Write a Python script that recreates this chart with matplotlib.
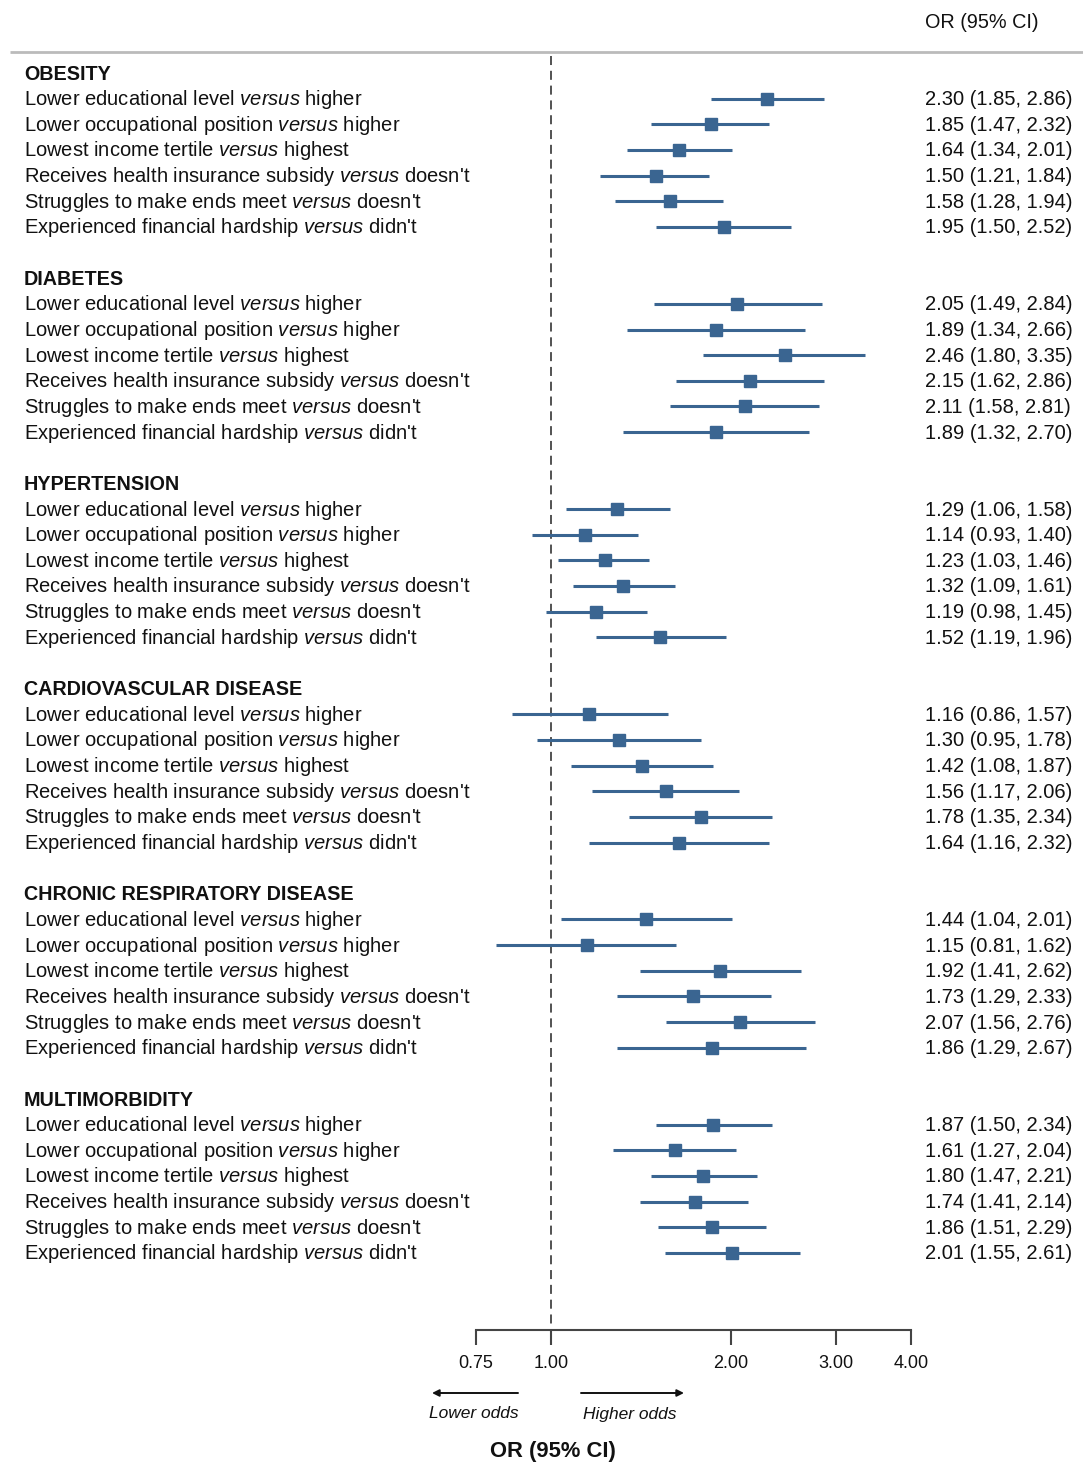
import numpy as np
import matplotlib
matplotlib.use("Agg")
import matplotlib.pyplot as plt
from matplotlib.transforms import blended_transform_factory
from matplotlib.ticker import FixedLocator, FixedFormatter, NullLocator

plt.rcParams["font.family"] = ["Liberation Sans", "DejaVu Sans"]
plt.rcParams["mathtext.fontset"] = "custom"
plt.rcParams["mathtext.rm"] = "Liberation Sans"
plt.rcParams["mathtext.it"] = "Liberation Sans:italic"
plt.rcParams["mathtext.bf"] = "Liberation Sans:bold"

# ---- data ----
outcomes = ["OBESITY", "DIABETES", "HYPERTENSION", "CARDIOVASCULAR DISEASE",
            "CHRONIC RESPIRATORY DISEASE", "MULTIMORBIDITY"]
exposures = [
    ("Lower educational level", "higher"),
    ("Lower occupational position", "higher"),
    ("Lowest income tertile", "highest"),
    ("Receives health insurance subsidy", "doesn't"),
    ("Struggles to make ends meet", "doesn't"),
    ("Experienced financial hardship", "didn't"),
]
or_est = [
    [2.30, 1.85, 1.64, 1.50, 1.58, 1.95],
    [2.05, 1.89, 2.46, 2.15, 2.11, 1.89],
    [1.29, 1.14, 1.23, 1.32, 1.19, 1.52],
    [1.16, 1.30, 1.42, 1.56, 1.78, 1.64],
    [1.44, 1.15, 1.92, 1.73, 2.07, 1.86],
    [1.87, 1.61, 1.80, 1.74, 1.86, 2.01],
]
ci_low = [
    [1.85, 1.47, 1.34, 1.21, 1.28, 1.50],
    [1.49, 1.34, 1.80, 1.62, 1.58, 1.32],
    [1.06, 0.93, 1.03, 1.09, 0.98, 1.19],
    [0.86, 0.95, 1.08, 1.17, 1.35, 1.16],
    [1.04, 0.81, 1.41, 1.29, 1.56, 1.29],
    [1.50, 1.27, 1.47, 1.41, 1.51, 1.55],
]
ci_high = [
    [2.86, 2.32, 2.01, 1.84, 1.94, 2.52],
    [2.84, 2.66, 3.35, 2.86, 2.81, 2.70],
    [1.58, 1.40, 1.46, 1.61, 1.45, 1.96],
    [1.57, 1.78, 1.87, 2.06, 2.34, 2.32],
    [2.01, 1.62, 2.62, 2.33, 2.76, 2.67],
    [2.34, 2.04, 2.21, 2.14, 2.29, 2.61],
]
axis_ticks = [0.75, 1.00, 2.00, 3.00, 4.00]

# ---- layout (figure pixels, measured from the top) ----
W, H = 1083, 1464
x_lo_px, x_hi_px = 476, 911          # axis from 0.75 to 4.00
k = (x_hi_px - x_lo_px) / np.log(axis_ticks[-1] / axis_ticks[0])
xmin = axis_ticks[0] * np.exp(-x_lo_px / k)
xmax = axis_ticks[0] * np.exp((W - x_lo_px) / k)

top_row = 73.0
pitch = 25.65
axis_y = 1330

col_blue = "#3a6591"
txt_col = "#111111"
fs = 14.5

fig = plt.figure(figsize=(W / 100, H / 100), dpi=100)
ax = fig.add_axes([0, 0, 1, 1])
ax.set_xscale("log")
ax.set_xlim(xmin, xmax)
ax.set_ylim(H, 0)
ax.axis("off")

tr = blended_transform_factory(fig.transFigure, ax.transData)
lab_x = 24 / W
val_x = 925 / W

# header
ax.text(val_x, 22, "OR (95% CI)", transform=tr, fontsize=14.3, color=txt_col,
        ha="left", va="center")
ax.plot([10 / W, 1.0], [52, 52], transform=tr, color="#bbbbbb", lw=2,
        solid_capstyle="butt")

# reference line at OR = 1
ax.plot([1, 1], [56, axis_y], color="#444444", lw=1.3, ls=(0, (5, 3.2)))

row = 0
for g, name in enumerate(outcomes):
    y = top_row + pitch * row
    ax.text(lab_x, y + 1, name, transform=tr, fontsize=14.2, fontweight="bold",
            color=txt_col, ha="left", va="center")
    row += 1
    for j, (a, b) in enumerate(exposures):
        y = top_row + pitch * row
        ax.text(lab_x, y + 1, f"{a} $\\mathit{{versus}}$ {b}", transform=tr,
                fontsize=fs, color=txt_col, ha="left", va="center")
        est, lo, hi = or_est[g][j], ci_low[g][j], ci_high[g][j]
        ax.plot([lo, hi], [y, y], color=col_blue, lw=2.2, solid_capstyle="butt")
        ax.plot([est], [y], marker="s", ms=8, color=col_blue, mec=col_blue)
        ax.text(val_x, y + 1, f"{est:.2f} ({lo:.2f}, {hi:.2f})", transform=tr,
                fontsize=fs, color=txt_col, ha="left", va="center")
        row += 1
    row += 1

# bottom axis
bax = fig.add_axes([x_lo_px / W, 1 - axis_y / H, (x_hi_px - x_lo_px) / W, 0.0001])
bax.set_xscale("log")
bax.set_xlim(axis_ticks[0], axis_ticks[-1])
bax.patch.set_visible(False)
for s in ["left", "right", "bottom"]:
    bax.spines[s].set_visible(False)
bax.spines["top"].set_color("#444444")
bax.spines["top"].set_linewidth(1.5)
bax.xaxis.set_major_locator(FixedLocator(axis_ticks))
bax.xaxis.set_major_formatter(FixedFormatter([f"{t:.2f}" for t in axis_ticks]))
bax.xaxis.set_minor_locator(NullLocator())
bax.yaxis.set_visible(False)
bax.tick_params(axis="x", direction="out", length=11, width=1.5, color="#444444",
                labelsize=13, labelcolor=txt_col, pad=7)

# direction arrows
arrow_y = H - 1393
ax.annotate("", xy=(432, arrow_y), xytext=(518, arrow_y), xycoords="figure pixels",
            textcoords="figure pixels",
            arrowprops=dict(arrowstyle="-|>", color="#111111", lw=1.4,
                            mutation_scale=10, shrinkA=0, shrinkB=0))
ax.annotate("", xy=(684, arrow_y), xytext=(581, arrow_y), xycoords="figure pixels",
            textcoords="figure pixels",
            arrowprops=dict(arrowstyle="-|>", color="#111111", lw=1.4,
                            mutation_scale=10, shrinkA=0, shrinkB=0))
ax.text(474 / W, 1414, "Lower odds", transform=tr, fontsize=12.5,
        style="italic", ha="center", va="center", color=txt_col)
ax.text(630 / W, 1414, "Higher odds", transform=tr, fontsize=12.5,
        style="italic", ha="center", va="center", color=txt_col)
ax.text(553 / W, 1452, "OR (95% CI)", transform=tr, fontsize=15.8,
        fontweight="bold", ha="center", va="center", color=txt_col)

fig.savefig("out.png", dpi=100)
